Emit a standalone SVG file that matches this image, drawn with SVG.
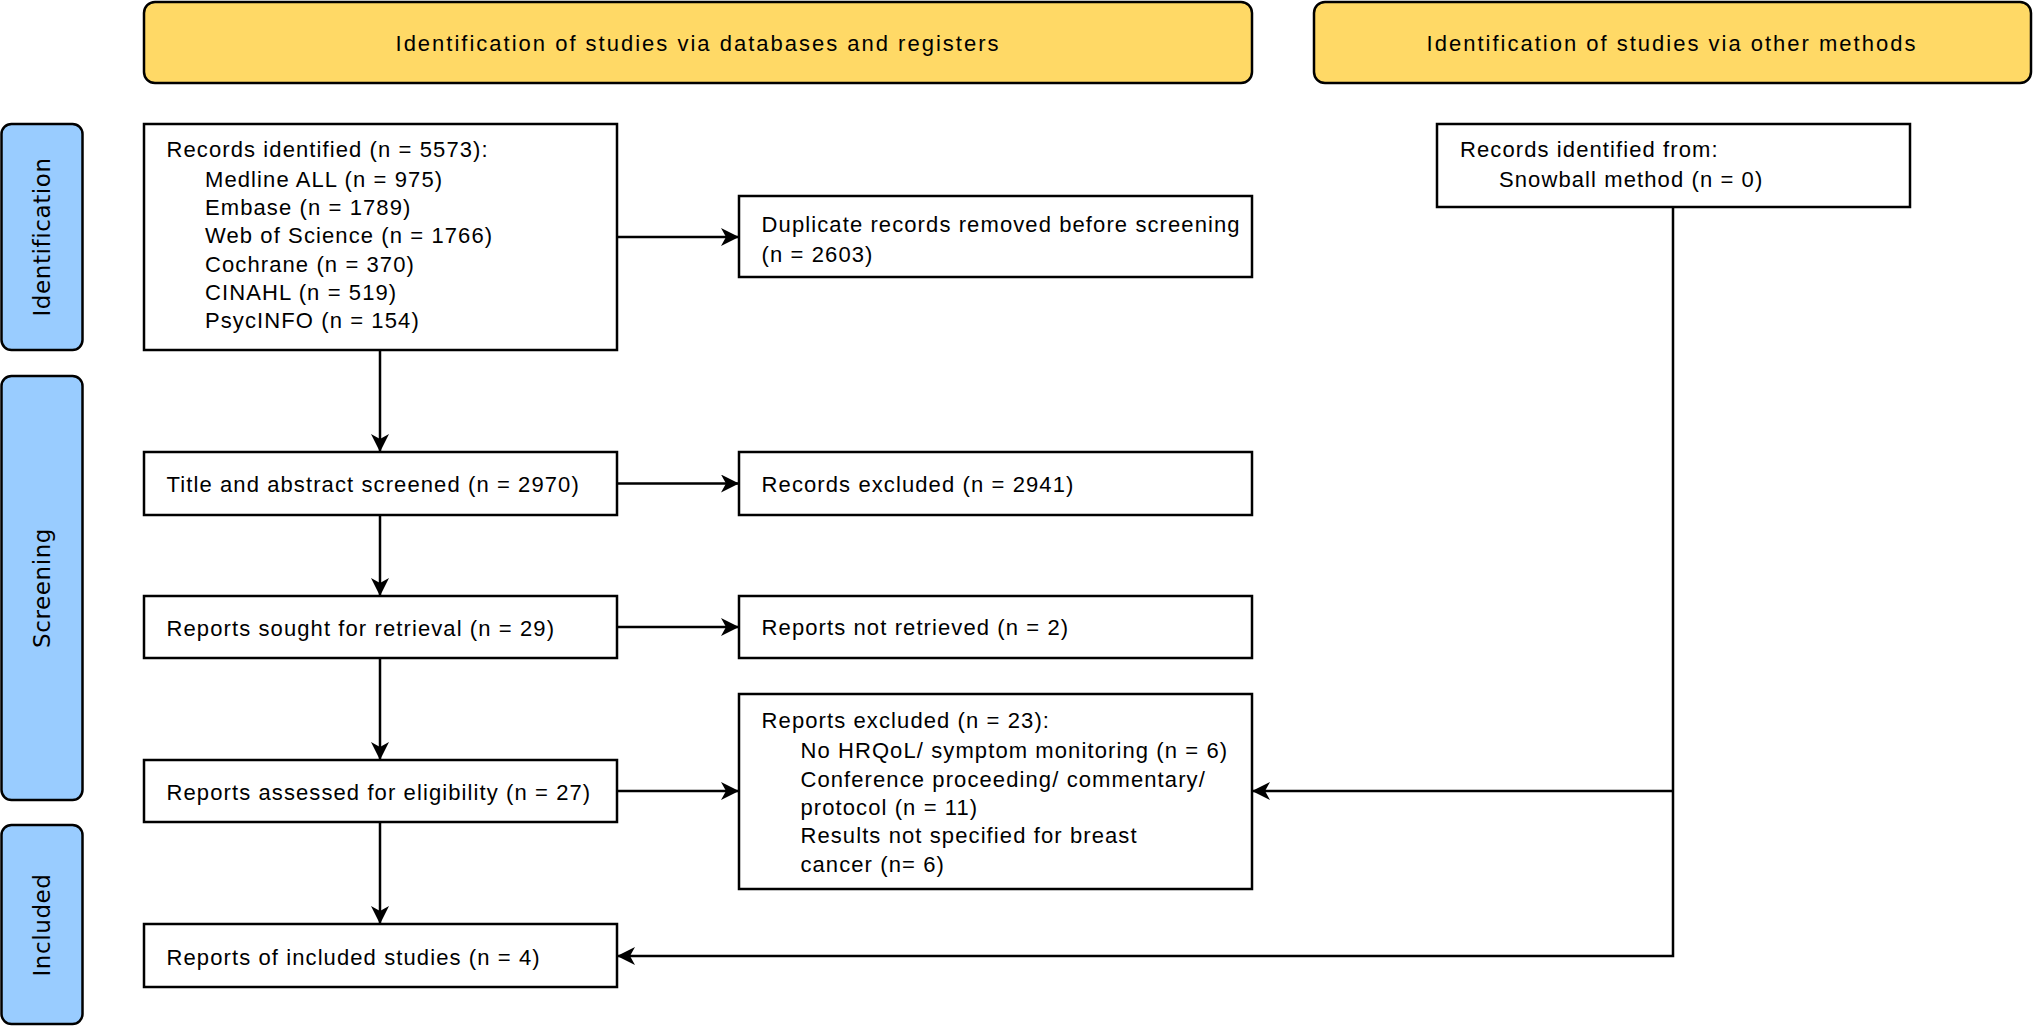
<svg xmlns="http://www.w3.org/2000/svg" width="2033" height="1026" viewBox="0 0 2033 1026">
<style>
.hdr{fill:#FFD966;stroke:#000;stroke-width:2.5}
.side{fill:#99CCFF;stroke:#000;stroke-width:2.5}
.box{fill:#fff;stroke:#000;stroke-width:2.5}
.t{font-family:"Liberation Sans",Arial,sans-serif;font-size:22px;letter-spacing:1.1px;fill:#000}
.h{letter-spacing:2px}
.c{text-anchor:middle}
.s{font-family:"DejaVu Sans",Verdana,sans-serif;font-size:23px;letter-spacing:0.6px;fill:#000;text-anchor:middle}
.ln{fill:none;stroke:#000;stroke-width:2.5}
</style>
<defs>
<marker id="arr" markerUnits="userSpaceOnUse" markerWidth="20" markerHeight="20" refX="18" refY="9" orient="auto" viewBox="0 0 20 20">
<path d="M0,0 L18,9 L0,18 L5,9 Z" fill="#000"/>
</marker>
</defs>
<rect width="2033" height="1026" fill="#fff"/>
<g id="header-databases"><rect class="hdr" x="144" y="2" width="1108" height="81" rx="11"/><text class="t h c" x="698" y="51">Identification of studies via databases and registers</text></g>
<g id="header-other"><rect class="hdr" x="1314" y="2" width="717" height="81" rx="11"/><text class="t h c" x="1672" y="51">Identification of studies via other methods</text></g>
<g id="side-identification"><rect class="side" x="1.5" y="124" width="81" height="226" rx="10"/><text class="s" transform="translate(50,237) rotate(-90)">Identification</text></g>
<g id="side-screening"><rect class="side" x="1.5" y="376" width="81" height="424" rx="10"/><text class="s" transform="translate(50,588) rotate(-90)">Screening</text></g>
<g id="side-included"><rect class="side" x="1.5" y="825" width="81" height="199" rx="10"/><text class="s" transform="translate(50,925) rotate(-90)">Included</text></g>
<g id="records-identified"><rect class="box" x="144" y="124" width="473" height="226"/>
<text class="t" x="166.5" y="157">Records identified (n = 5573):</text>
<text class="t" x="205" y="187">Medline ALL (n = 975)</text>
<text class="t" x="205" y="215">Embase (n = 1789)</text>
<text class="t" x="205" y="243">Web of Science (n = 1766)</text>
<text class="t" x="205" y="272">Cochrane (n = 370)</text>
<text class="t" x="205" y="300">CINAHL (n = 519)</text>
<text class="t" x="205" y="328">PsycINFO (n = 154)</text></g>
<g id="duplicates"><rect class="box" x="739" y="196" width="513" height="81"/>
<text class="t" x="761.6" y="232">Duplicate records removed before screening</text>
<text class="t" x="761.6" y="262">(n = 2603)</text></g>
<g id="snowball"><rect class="box" x="1437" y="124" width="473" height="83"/>
<text class="t" x="1460" y="157">Records identified from:</text>
<text class="t" x="1499" y="187">Snowball method (n = 0)</text></g>
<g id="title-abstract"><rect class="box" x="144" y="452" width="473" height="63"/><text class="t" x="166.5" y="492">Title and abstract screened (n = 2970)</text></g>
<g id="records-excluded"><rect class="box" x="739" y="452" width="513" height="63"/><text class="t" x="761.6" y="492">Records excluded (n = 2941)</text></g>
<g id="reports-sought"><rect class="box" x="144" y="596" width="473" height="62"/><text class="t" x="166.5" y="636">Reports sought for retrieval (n = 29)</text></g>
<g id="reports-not-retrieved"><rect class="box" x="739" y="596" width="513" height="62"/><text class="t" x="761.6" y="635">Reports not retrieved (n = 2)</text></g>
<g id="reports-assessed"><rect class="box" x="144" y="760" width="473" height="62"/><text class="t" x="166.5" y="800">Reports assessed for eligibility (n = 27)</text></g>
<g id="reports-excluded"><rect class="box" x="739" y="694" width="513" height="195"/>
<text class="t" x="761.6" y="728">Reports excluded (n = 23):</text>
<text class="t" x="800.4" y="758">No HRQoL/ symptom monitoring (n = 6)</text>
<text class="t" x="800.4" y="787">Conference proceeding/ commentary/</text>
<text class="t" x="800.4" y="815">protocol (n = 11)</text>
<text class="t" x="800.4" y="843">Results not specified for breast</text>
<text class="t" x="800.4" y="872">cancer (n= 6)</text></g>
<g id="reports-included"><rect class="box" x="144" y="924" width="473" height="63"/><text class="t" x="166.5" y="965">Reports of included studies (n = 4)</text></g>
<g id="connectors">
<path class="ln" d="M380,350 V452" marker-end="url(#arr)"/>
<path class="ln" d="M617,237 H739" marker-end="url(#arr)"/>
<path class="ln" d="M380,515 V596" marker-end="url(#arr)"/>
<path class="ln" d="M617,483.5 H739" marker-end="url(#arr)"/>
<path class="ln" d="M380,658 V760" marker-end="url(#arr)"/>
<path class="ln" d="M617,627 H739" marker-end="url(#arr)"/>
<path class="ln" d="M380,822 V924" marker-end="url(#arr)"/>
<path class="ln" d="M617,791 H739" marker-end="url(#arr)"/>
<path class="ln" d="M1673,207 V956 H617" marker-end="url(#arr)"/>
<path class="ln" d="M1673,791 H1252" marker-end="url(#arr)"/>
</g>
</svg>
